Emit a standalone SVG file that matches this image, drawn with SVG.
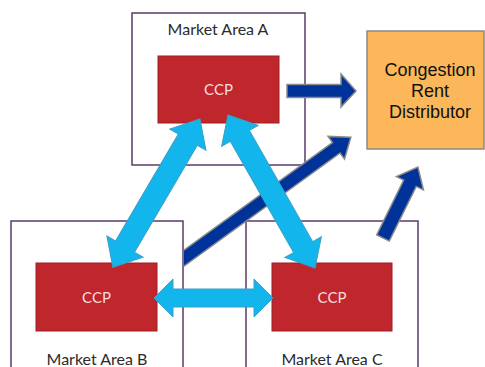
<svg xmlns="http://www.w3.org/2000/svg" width="485" height="367" viewBox="0 0 485 367">
<defs>
<style>
.area{fill:#fff;stroke:#5b3a6b;stroke-width:1.5}
.ccp{fill:#c0272d;stroke:#9e1f25;stroke-width:1}
.dist{fill:#fbb75a;stroke:#8a8a8a;stroke-width:1.5}
.lbl{font-family:Lato,"Open Sans",sans-serif;font-size:16px;fill:#2b2b2b;text-anchor:middle}
.ccpt{font-family:Lato,"Open Sans",sans-serif;font-size:15px;fill:#f6dede;text-anchor:middle}
.dt{font-family:"Liberation Sans",Arial,sans-serif;font-size:18px;fill:#111;text-anchor:middle}
.cy{fill:#13b6ec;stroke:#3a9fc8;stroke-width:1}
.db{fill:#003399;stroke:#8a8a8a;stroke-width:1.5}
</style>
<clipPath id="clipB"><rect x="184" y="0" width="301" height="367"/></clipPath>
</defs>
<g id="areaA">
<rect class="area" x="132" y="13" width="173" height="152"/>
<text class="lbl" x="218" y="35">Market Area A</text>
</g>
<g id="areaB">
<rect class="area" x="11" y="221" width="172" height="160"/>
<text class="lbl" x="97" y="365">Market Area B</text>
</g>
<g id="areaC">
<rect class="area" x="246" y="221" width="172" height="160"/>
<text class="lbl" x="332" y="365">Market Area C</text>
</g>
<g id="ccpA">
<rect class="ccp" x="158" y="56" width="121" height="67"/>
<text class="ccpt" x="218.5" y="94.5">CCP</text>
</g>
<g id="ccpB">
<rect class="ccp" x="36" y="263" width="121" height="68"/>
<text class="ccpt" x="96.5" y="302.5">CCP</text>
</g>
<g id="ccpC">
<rect class="ccp" x="272" y="263" width="120" height="68"/>
<text class="ccpt" x="332" y="302.5">CCP</text>
</g>
<g id="distributor">
<rect class="dist" x="367" y="31" width="117" height="118"/>
<text class="dt" x="430" y="76">Congestion</text>
<text class="dt" x="430" y="97">Rent</text>
<text class="dt" x="430" y="118">Distributor</text>
</g>
<g id="connectors">
<g clip-path="url(#clipB)">
<polygon class="db" transform="translate(180,261) rotate(-35.93)" points="0,-6.5 193,-6.5 193,-14 211,0 193,14 193,6.5 0,6.5"/>
</g>
<polygon class="db" transform="translate(383,238) rotate(-63.76)" points="0,-7 61,-7 61,-15 79,0 61,15 61,7 0,7"/>
<polygon class="db" points="287,84.5 341,84.5 341,74 356,91 341,107 341,97.5 287,97.5"/>
<polygon class="cy" transform="translate(200,119) rotate(120.45)" points="0,0 24,-21 24,-11 148,-11 148,-21 172,0 148,21 148,11 24,11 24,21"/>
<polygon class="cy" transform="translate(228,115) rotate(60.37)" points="0,0 24,-21 24,-11 152,-11 152,-21 176,0 152,21 152,11 24,11 24,21"/>
<polygon class="cy" points="154,298 173,279 173,289 254,289 254,279 273,298 254,317 254,307 173,307 173,317"/>
</g>
</svg>
